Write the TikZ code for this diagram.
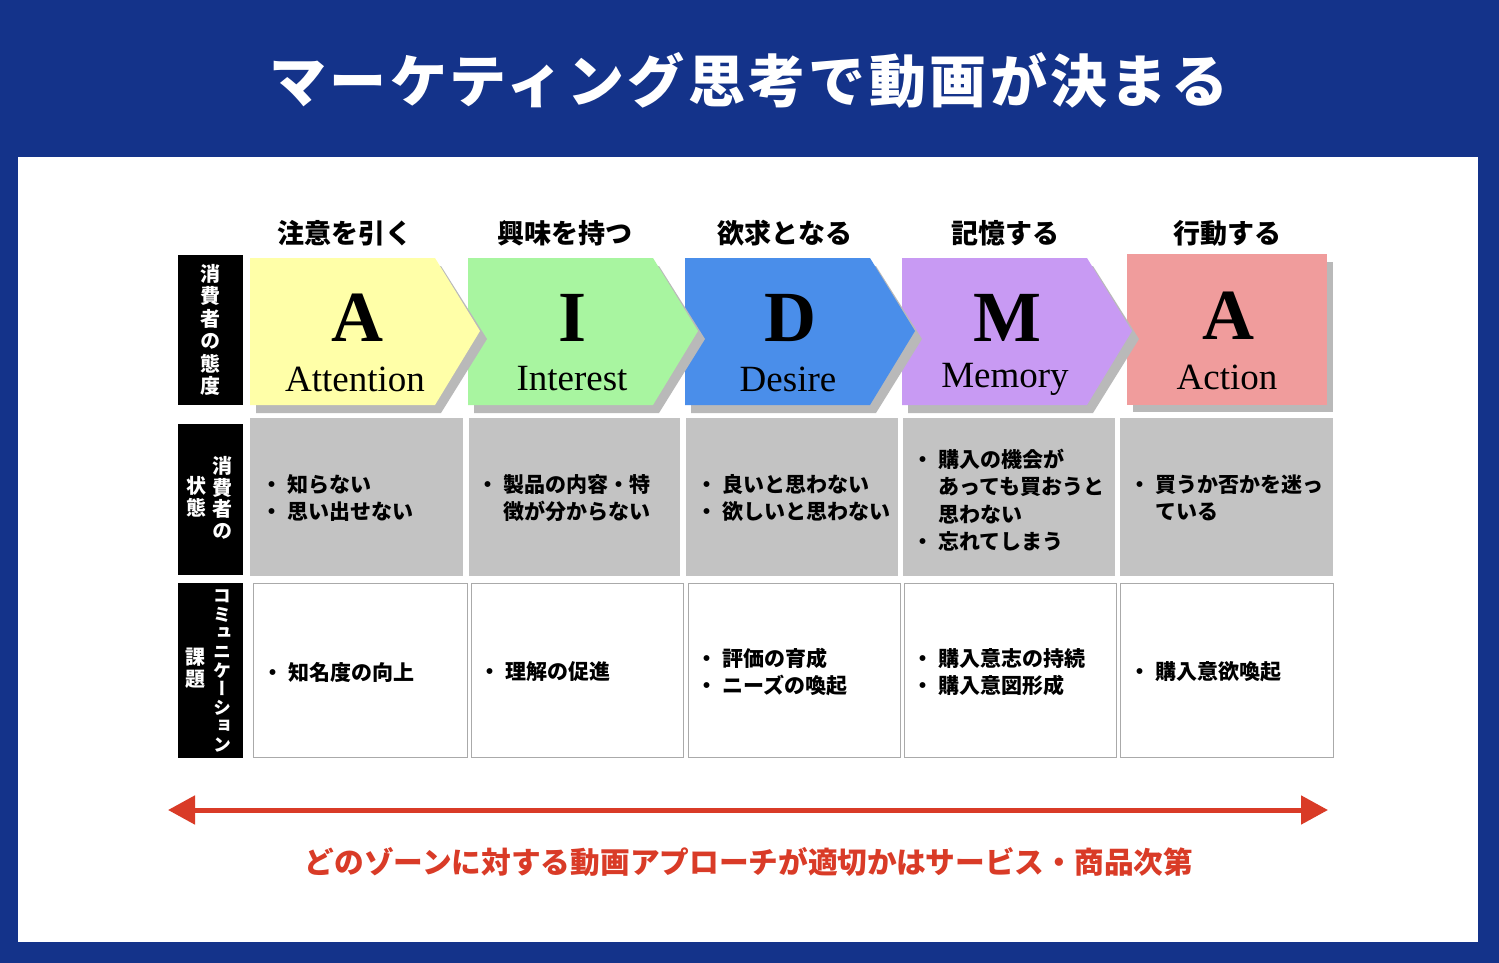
\documentclass[tikz,border=0pt]{standalone}
\usepackage{fontspec}
\setmainfont{Noto Sans CJK JP}
\newfontfamily\vjp{Noto Sans CJK JP}[RawFeature=+vert]
\newfontfamily\titlefont{Noto Sans CJK JP}[LetterSpace=6]
\newfontfamily\lserif{Liberation Serif}
\usetikzlibrary{arrows.meta}
\definecolor{bluebg}{RGB}{20,51,138}
\definecolor{yellowA}{RGB}{255,255,168}
\definecolor{greenI}{RGB}{168,245,160}
\definecolor{blueD}{RGB}{74,142,234}
\definecolor{purpleM}{RGB}{200,154,243}
\definecolor{redA}{RGB}{240,156,156}
\definecolor{cellgray}{RGB}{195,195,195}
\definecolor{shadowgray}{RGB}{185,185,185}
\definecolor{cellborder}{RGB}{170,170,170}
\definecolor{redarrow}{RGB}{217,59,39}
\newcommand\bul{・\hspace{5pt}}
\newcommand\ind{\hspace*{26pt}}
\tikzset{
  sidebox/.style={fill=black, minimum width=65pt, inner sep=0pt},
  vtext/.style={text=white, align=center, inner sep=0pt, font=\vjp\bfseries\fontsize{20}{22.5}\selectfont},
  header/.style={font=\bfseries\fontsize{27}{30}\selectfont, inner sep=0pt},
  bigletter/.style={font=\lserif\bfseries\fontsize{72}{72}\selectfont, inner sep=0pt},
  word/.style={font=\lserif\fontsize{37}{40}\selectfont, inner sep=0pt},
  graycell/.style={fill=cellgray},
  whitecell/.style={draw=cellborder, fill=white, line width=1pt},
  celltext/.style={anchor=west, align=left, inner sep=0pt, font=\bfseries\fontsize{21}{27.5}\selectfont},
}
\newcommand\chevshape[2]{%
  \fill[shadowgray] (#1+6,266) -- (#1+191,266) -- (#1+237,339) -- (#1+191,413) -- (#1+6,413) -- cycle;
  \fill[#2] (#1,258) -- (#1+185,258) -- (#1+230,331) -- (#1+185,405) -- (#1,405) -- cycle;
}
\begin{document}
\begin{tikzpicture}[x=1pt,y=-1pt]
\useasboundingbox (0,0) rectangle (1499,963);
\fill[bluebg] (0,0) rectangle (1499,963);
\fill[white] (18,157) rectangle (1478,942);
\node[text=white, font=\titlefont\bfseries\fontsize{57}{60}\selectfont, inner sep=0pt] (title) at (749,80) {マーケティング思考で動画が決まる};

% side label boxes
\node[sidebox, minimum height=150pt] (side1) at (210.5,330) {};
\node[vtext] (side1t) at (side1.center) {消\\費\\者\\の\\態\\度};
\node[sidebox, minimum height=151pt] (side2) at (210.5,499.5) {};
\node[vtext, font=\vjp\bfseries\fontsize{20}{21.5}\selectfont] (side2a) at (222,498) {消\\費\\者\\の};
\node[vtext, font=\vjp\bfseries\fontsize{20}{21.5}\selectfont] (side2b) at (196,497) {状\\態};
\node[sidebox, minimum height=175pt] (side3) at (210.5,670.5) {};
\node[vtext, font=\vjp\bfseries\fontsize{18}{18.6}\selectfont] (side3a) at (222,671) {コ\\ミ\\ュ\\ニ\\ケ\\ー\\シ\\ョ\\ン};
\node[vtext, font=\vjp\bfseries\fontsize{20}{22}\selectfont] (side3b) at (195,668) {課\\題};

% headers
\node[header] (h1) at (345,233) {注意を引く};
\node[header] (h2) at (565,233) {興味を持つ};
\node[header] (h3) at (785,233) {欲求となる};
\node[header] (h4) at (1005,233) {記憶する};
\node[header] (h5) at (1227,233) {行動する};

% stage shapes (right to left so that each tip lies over the next)
\fill[shadowgray] (1133,262) rectangle (1333,412);
\fill[redA] (1127,254) rectangle (1327,405);
\chevshape{902}{purpleM}
\chevshape{685}{blueD}
\chevshape{468}{greenI}
\chevshape{250}{yellowA}

\node[bigletter] (L1) at (357,318) {A};
\node[bigletter] (L2) at (573,318) {I};
\node[bigletter] (L3) at (790,318) {D};
\node[bigletter] (L4) at (1007,318) {M};
\node[bigletter] (L5) at (1228,316) {A};
\node[word] (W1) at (355,379) {Attention};
\node[word] (W2) at (572,379) {Interest};
\node[word] (W3) at (788,379) {Desire};
\node[word] (W4) at (1005,379) {Memory};
\node[word] (W5) at (1227,377) {Action};

% gray state cells
\fill[graycell] (250,418) rectangle (463,576);
\fill[graycell] (469,418) rectangle (680,576);
\fill[graycell] (686,418) rectangle (898,576);
\fill[graycell] (903,418) rectangle (1115,576);
\fill[graycell] (1120,418) rectangle (1333,576);
\node[celltext] (s1) at (261,498) {\bul 知らない\\\bul 思い出せない};
\node[celltext] (s2) at (477,498) {\bul 製品の内容・特\\\ind 徴が分からない};
\node[celltext] (s3) at (696,498) {\bul 良いと思わない\\\bul 欲しいと思わない};
\node[celltext] (s4) at (912,500) {\bul 購入の機会が\\\ind あっても買おうと\\\ind 思わない\\\bul 忘れてしまう};
\node[celltext] (s5) at (1129,498) {\bul 買うか否かを迷っ\\\ind ている};

% white task cells
\filldraw[whitecell] (253,583) rectangle (467,757);
\filldraw[whitecell] (471,583) rectangle (683,757);
\filldraw[whitecell] (688,583) rectangle (900,757);
\filldraw[whitecell] (904,583) rectangle (1116,757);
\filldraw[whitecell] (1120,583) rectangle (1333,757);
\node[celltext] (t1) at (262,672) {\bul 知名度の向上};
\node[celltext] (t2) at (479,672) {\bul 理解の促進};
\node[celltext] (t3) at (696,672) {\bul 評価の育成\\\bul ニーズの喚起};
\node[celltext] (t4) at (912,672) {\bul 購入意志の持続\\\bul 購入意図形成};
\node[celltext] (t5) at (1129,672) {\bul 購入意欲喚起};

% bottom double arrow
\coordinate (arrL) at (168,810);
\coordinate (arrR) at (1328,810);
\draw[redarrow, line width=5pt, {Triangle[length=27pt,width=28pt]}-{Triangle[length=27pt,width=28pt]}] (arrL) -- (arrR);
\node[text=redarrow, font=\bfseries\fontsize{29.7}{32}\selectfont, inner sep=0pt] (note) at (749,862) {どのゾーンに対する動画アプローチが適切かはサービス・商品次第};
\end{tikzpicture}
\end{document}
